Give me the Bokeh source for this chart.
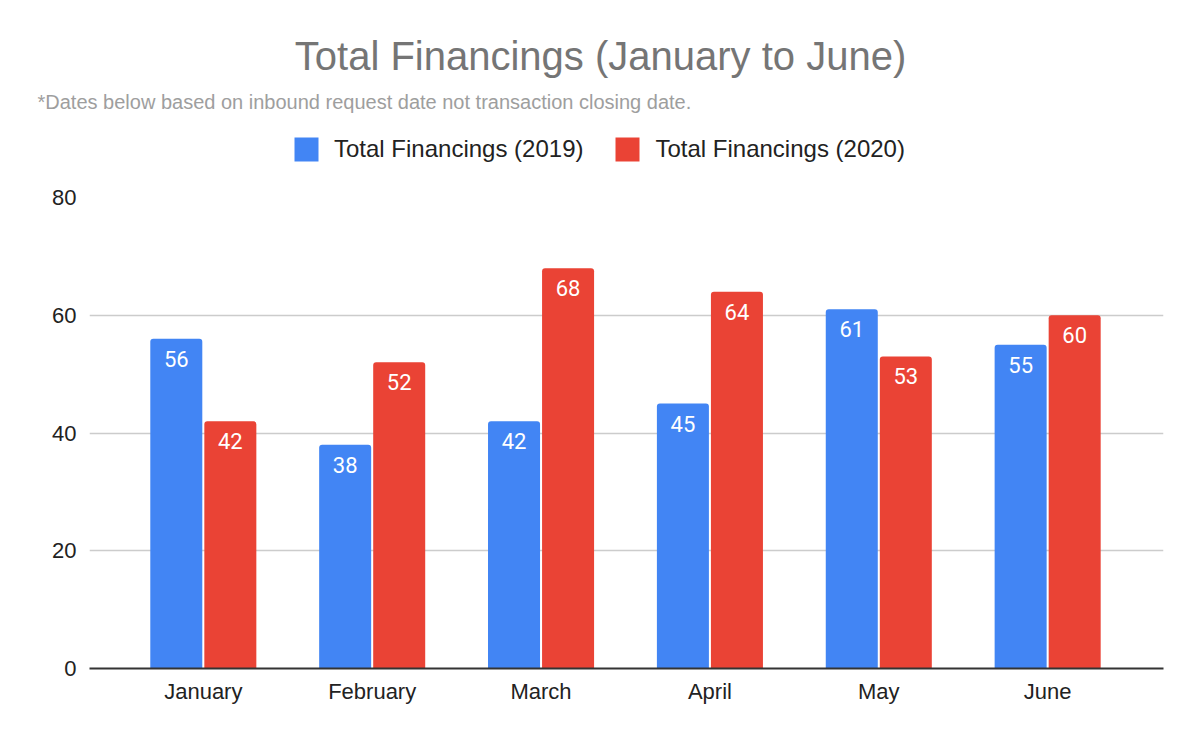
from bokeh.plotting import figure
from bokeh.layouts import column
from bokeh.models import (ColumnDataSource, Range1d, FixedTicker, Label, Legend,
                          LegendItem, LabelSet)
from bokeh.core.properties import value
from bokeh.embed import file_html
from bokeh.resources import INLINE

# ---- data ----
months = ["January", "February", "March", "April", "May", "June"]
fin_2019 = [56, 38, 42, 45, 61, 55]
fin_2020 = [42, 52, 68, 64, 53, 60]
y_ticks = [0, 20, 40, 60, 80]
series_names = ["Total Financings (2019)", "Total Financings (2020)"]
title_text = "Total Financings (January to June)"
subtitle_text = "*Dates below based on inbound request date not transaction closing date."

BLUE = "#4285F4"
RED = "#EA4335"
FONT = "Liberation Sans"

W = 1200
HH = 180            # header height
HM = 562            # main chart height
FL, FR, FT, FB = 89, 1163, 17, 488   # main frame edges (figure px)

idx = list(range(len(months)))
src19 = ColumnDataSource(dict(x=[i - 0.16 for i in idx], top=fin_2019,
                              lab=[str(v) for v in fin_2019]))
src20 = ColumnDataSource(dict(x=[i + 0.16 for i in idx], top=fin_2020,
                              lab=[str(v) for v in fin_2020]))

# ---------------- main chart ----------------
p = figure(width=W, height=HM, output_backend="svg", toolbar_location=None,
           x_range=Range1d(-0.674, 5.686), y_range=Range1d(0, 80),
           min_border_left=FL, min_border_right=W - FR,
           min_border_top=FT, min_border_bottom=HM - FB)
p.frame_align = False
p.outline_line_color = None
p.background_fill_color = "white"
p.border_fill_color = "white"

r19 = p.vbar(x="x", top="top", width=0.308, source=src19, fill_color=BLUE,
             line_color=None, border_radius=(3, 3, 0, 0))
r20 = p.vbar(x="x", top="top", width=0.308, source=src20, fill_color=RED,
             line_color=None, border_radius=(3, 3, 0, 0))

for s in (src19, src20):
    ls = LabelSet(x="x", y="top", text="lab", source=s, y_offset=-12,
                  text_align="center", text_baseline="top",
                  text_color="white", text_font=value("Roboto"),
                  text_font_size="22px")
    p.add_layout(ls)

p.xaxis.ticker = FixedTicker(ticks=idx)
p.xaxis.major_label_overrides = {i: m for i, m in zip(idx, months)}
p.xaxis.major_tick_line_color = None
p.xaxis.minor_tick_line_color = None
p.xaxis.axis_line_color = "#333333"
p.xaxis.axis_line_width = 2
p.xaxis.major_label_text_font = FONT
p.xaxis.major_label_text_font_size = "22px"
p.xaxis.major_label_text_color = "#222222"
p.xaxis.major_label_standoff = 4

p.yaxis.ticker = FixedTicker(ticks=y_ticks)
p.yaxis.major_tick_line_color = None
p.yaxis.minor_tick_line_color = None
p.yaxis.axis_line_color = None
p.yaxis.major_label_text_font = FONT
p.yaxis.major_label_text_font_size = "22px"
p.yaxis.major_label_text_color = "#222222"
p.yaxis.major_label_standoff = 7

p.xgrid.grid_line_color = None
p.ygrid.grid_line_color = "#cccccc"
p.ygrid.grid_line_width = 1.5

# ---------------- header (title, subtitle, legend) ----------------
h = figure(width=W, height=HH, output_backend="svg", toolbar_location=None,
           x_axis_type=None, y_axis_type=None,
           x_range=Range1d(-0.674, 5.686), y_range=Range1d(0, 80),
           min_border=0)
h.frame_align = False
h.outline_line_color = None
h.xgrid.grid_line_color = None
h.ygrid.grid_line_color = None
h.background_fill_color = "white"
h.border_fill_color = "white"

def sy(py):
    return HH - py

h.add_layout(Label(x=600, y=sy(55), x_units="screen", y_units="screen",
                   text=title_text, text_align="center",
                   text_baseline="middle", text_font=FONT,
                   text_font_size="40px", text_color="#757575"))
h.add_layout(Label(x=37, y=sy(101), x_units="screen", y_units="screen",
                   text=subtitle_text, text_align="left",
                   text_baseline="middle", text_font=FONT,
                   text_font_size="20px", text_color="#9e9e9e"))

# legend swatches: hidden copies of the series renderers
h19 = h.vbar(x="x", top="top", width=0.308, source=src19, fill_color=BLUE,
             line_color=None, visible=False)
h20 = h.vbar(x="x", top="top", width=0.308, source=src20, fill_color=RED,
             line_color=None, visible=False)

legend = Legend(items=[LegendItem(label=series_names[0], renderers=[h19]),
                       LegendItem(label=series_names[1], renderers=[h20])],
                orientation="horizontal", location=(291, sy(163.5)),
                glyph_width=30, glyph_height=30, label_standoff=13,
                spacing=29, padding=0, margin=0,
                border_line_color=None, background_fill_alpha=0,
                inactive_fill_alpha=0,
                label_text_font=FONT, label_text_font_size="24px",
                label_text_color="#222222", label_height=30)
h.add_layout(legend, "center")

layout = column(h, p, spacing=0)
open("out.html", "w").write(file_html(layout, INLINE))
